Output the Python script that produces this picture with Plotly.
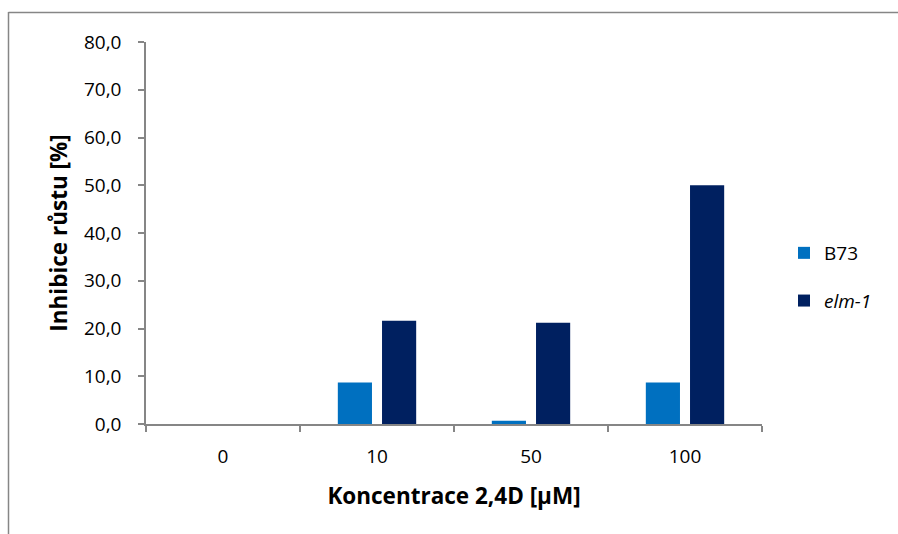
import plotly.graph_objects as go

categories = ["0", "10", "50", "100"]
b73_values = [0.0, 8.7, 0.7, 8.7]
elm1_values = [0.0, 21.6, 21.2, 50.0]
series_names = ["B73", "<i>elm-1</i>"]
series_colors = ["#0070C0", "#002060"]
y_ticks = [0, 10, 20, 30, 40, 50, 60, 70, 80]

FONT = "'Open Sans', Lato, sans-serif"
AXIS_COLOR = "#868686"

fig = go.Figure()
for i, (name, vals, col) in enumerate(zip(series_names, [b73_values, elm1_values], series_colors)):
    fig.add_trace(go.Bar(
        x=categories, y=vals, name=name,
        marker=dict(color=col, line=dict(width=0)),
        legendgroup=f"g{i}",
    ))

W, H = 898, 534
L, R, T, B = 146, 136, 42, 110
pw, ph = W - L - R, H - T - B

def px2paper_x(px):
    return (px - L) / pw

def px2paper_y(py):
    return 1 - (py - T) / ph

fig.update_layout(
    width=W, height=H,
    margin=dict(l=L, r=R, t=T, b=B, autoexpand=False),
    paper_bgcolor="white", plot_bgcolor="white",
    font=dict(family=FONT, size=19, color="#000000"),
    separators=", ",
    barmode="group",
    bargap=0.426,
    bargroupgap=0.227,
    showlegend=True,
    legend=dict(
        x=px2paper_x(784), y=px2paper_y(234), xanchor="left", yanchor="top",
        traceorder="grouped", tracegroupgap=20,
        font=dict(family=FONT, size=19, color="#000000"),
        bgcolor="rgba(0,0,0,0)", itemwidth=30,
    ),
    xaxis=dict(
        type="category",
        categoryorder="array", categoryarray=categories,
        showline=True, linecolor=AXIS_COLOR, linewidth=1.5,
        ticks="outside", ticklen=6, tickcolor=AXIS_COLOR, tickwidth=1.5,
        tickson="boundaries",
        ticklabelstandoff=14,
        showgrid=False, zeroline=False,
        tickfont=dict(family=FONT, size=19),
        title=dict(text="<b>Koncentrace 2,4D [µM]</b>", font=dict(family=FONT, size=22.5), standoff=21),
        fixedrange=True,
    ),
    yaxis=dict(
        range=[0, 80],
        tickvals=y_ticks,
        tickformat=".1f",
        showline=True, linecolor=AXIS_COLOR, linewidth=1.5,
        ticks="outside", ticklen=6, tickcolor=AXIS_COLOR, tickwidth=1.5,
        ticklabelstandoff=13,
        showgrid=False, zeroline=False,
        tickfont=dict(family=FONT, size=19),
        title=dict(text="<b>Inhibice růstu [%]</b>", font=dict(family=FONT, size=22.5), standoff=10),
        fixedrange=True,
    ),
    shapes=[
        dict(type="line", xref="paper", yref="paper",
             x0=px2paper_x(8.5), x1=px2paper_x(8.5), y0=px2paper_y(12), y1=px2paper_y(540),
             line=dict(color=AXIS_COLOR, width=1.5)),
        dict(type="line", xref="paper", yref="paper",
             x0=px2paper_x(8.5), x1=px2paper_x(900), y0=px2paper_y(12.5), y1=px2paper_y(12.5),
             line=dict(color=AXIS_COLOR, width=1.5)),
    ],
)

fig.write_html("out.html")
